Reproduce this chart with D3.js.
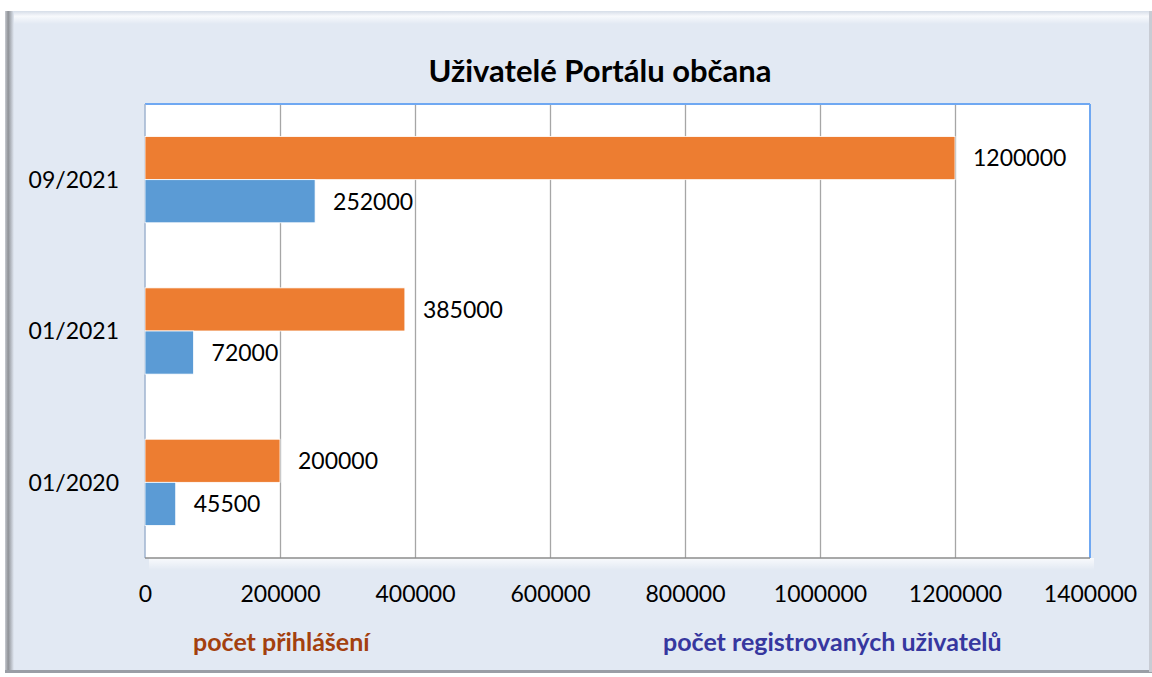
<!DOCTYPE html>
<html>
<head>
<meta charset="utf-8">
<script src="https://cdn.jsdelivr.net/npm/d3@7"></script>
<style>
  html, body { margin: 0; padding: 0; background: #ffffff; }
  svg { display: block; }
  text { font-family: Lato, "Open Sans", sans-serif; }
</style>
</head>
<body>
<svg id="chart" width="1152" height="677"></svg>
<script>
// ---- Data ----
const categories = ["09/2021", "01/2021", "01/2020"];
const seriesNames = ["počet přihlášení", "počet registrovaných uživatelů"];
const loginValues = [1200000, 385000, 200000];
const userValues = [252000, 72000, 45500];
const xTicks = [0, 200000, 400000, 600000, 800000, 1000000, 1200000, 1400000];
const titleText = "Uživatelé Portálu občana";

const seriesColors = ["#ed7d31", "#5b9bd5"];
const legendColors = ["#a3400e", "#36379f"];

const svg = d3.select("#chart");
const W = 1152, H = 677;

// ---- Frame ----
const defs = svg.append("defs");
const lg = defs.append("linearGradient").attr("id", "leftBevel").attr("x1", 0).attr("x2", 1);
lg.append("stop").attr("offset", "0%").attr("stop-color", "#c9ccd2");
lg.append("stop").attr("offset", "35%").attr("stop-color", "#8e9196");
lg.append("stop").attr("offset", "100%").attr("stop-color", "#e2e9f3");
const tg = defs.append("linearGradient").attr("id", "topBevel").attr("x1", 0).attr("x2", 0).attr("y1", 0).attr("y2", 1);
tg.append("stop").attr("offset", "0%").attr("stop-color", "#d6dde8");
tg.append("stop").attr("offset", "40%").attr("stop-color", "#f7f9fc");
tg.append("stop").attr("offset", "100%").attr("stop-color", "#e2e9f3");
const sg = defs.append("linearGradient").attr("id", "plotShadow").attr("x1", 0).attr("x2", 0).attr("y1", 0).attr("y2", 1);
sg.append("stop").attr("offset", "0%").attr("stop-color", "#ffffff").attr("stop-opacity", 0.8);
sg.append("stop").attr("offset", "100%").attr("stop-color", "#ffffff").attr("stop-opacity", 0);

svg.append("rect").attr("x", 6).attr("y", 11).attr("width", W - 6).attr("height", 661).attr("fill", "#e2e9f3");
svg.append("rect").attr("x", 6).attr("y", 11).attr("width", W - 6).attr("height", 13).attr("fill", "url(#topBevel)");
svg.append("rect").attr("x", 5).attr("y", 11).attr("width", 9).attr("height", 661).attr("fill", "url(#leftBevel)");
svg.append("rect").attr("x", 5).attr("y", 670).attr("width", W - 5).attr("height", 3).attr("fill", "#9a9ea6");
svg.append("rect").attr("x", W - 3).attr("y", 11).attr("width", 3).attr("height", 661).attr("fill", "#c8ccd4");

// ---- Scales ----
const plot = { left: 145, right: 1090, top: 104, bottom: 558 };
const x = d3.scaleLinear().domain([0, 1400000]).range([plot.left, plot.right]);
const y = d3.scaleBand().domain(categories).range([plot.top, plot.bottom]).paddingInner(0.43).paddingOuter(0.215);
const ySub = d3.scaleBand().domain([0, 1]).range([0, y.bandwidth()]).padding(0);

// plot area shadow + background
svg.append("rect").attr("x", plot.left + 4).attr("y", plot.bottom).attr("width", plot.right - plot.left).attr("height", 12).attr("fill", "url(#plotShadow)");
svg.append("rect").attr("x", plot.left).attr("y", plot.top).attr("width", plot.right - plot.left).attr("height", plot.bottom - plot.top).attr("fill", "#ffffff");

// gridlines
const grid = svg.append("g").attr("transform", `translate(0,${plot.bottom})`)
  .call(d3.axisBottom(x).tickValues(xTicks.slice(1, -1)).tickSize(-(plot.bottom - plot.top)).tickFormat(""));
grid.select(".domain").remove();
grid.selectAll("line").attr("stroke", "#a6a6a6").attr("stroke-width", 1.3);

// plot borders
svg.append("line").attr("x1", plot.left).attr("x2", plot.right).attr("y1", plot.top).attr("y2", plot.top).attr("stroke", "#6fa8f2").attr("stroke-width", 2);
svg.append("line").attr("x1", plot.right).attr("x2", plot.right).attr("y1", plot.top).attr("y2", plot.bottom).attr("stroke", "#6fa8f2").attr("stroke-width", 2);
svg.append("line").attr("x1", plot.left).attr("x2", plot.left).attr("y1", plot.top).attr("y2", plot.bottom).attr("stroke", "#9fb3cf").attr("stroke-width", 1.5);
svg.append("line").attr("x1", plot.left).attr("x2", plot.right).attr("y1", plot.bottom).attr("y2", plot.bottom).attr("stroke", "#8c8c8c").attr("stroke-width", 1.3);

// ---- Bars ----
const rows = categories.map((c, i) => ({ cat: c, vals: [loginValues[i], userValues[i]] }));
const groups = svg.append("g").selectAll("g").data(rows).join("g")
  .attr("transform", d => `translate(0,${y(d.cat)})`);

groups.selectAll("rect").data(d => d.vals.map((v, k) => ({ v, k }))).join("rect")
  .attr("x", x(0))
  .attr("y", d => ySub(d.k))
  .attr("width", d => x(d.v) - x(0))
  .attr("height", ySub.bandwidth())
  .attr("fill", d => seriesColors[d.k])
  .attr("stroke", "#ffffff").attr("stroke-width", 0.8);

groups.selectAll("text").data(d => d.vals.map((v, k) => ({ v, k }))).join("text")
  .attr("x", d => x(d.v) + 18)
  .attr("y", d => ySub(d.k) + ySub.bandwidth() / 2)
  .attr("dy", "0.36em")
  .attr("font-size", 23)
  .attr("fill", "#000")
  .text(d => d3.format("d")(d.v));

// ---- Axes ----
const xAxis = svg.append("g").attr("transform", `translate(0,${plot.bottom})`)
  .call(d3.axisBottom(x).tickValues(xTicks).tickSize(0).tickPadding(0).tickFormat(d3.format("d")));
xAxis.select(".domain").remove();
xAxis.selectAll("text").attr("y", 44).attr("dy", 0).attr("font-size", 23).attr("fill", "#000").style("font-family", "Lato, 'Open Sans', sans-serif");

const yAxis = svg.append("g").attr("transform", `translate(${plot.left},0)`)
  .call(d3.axisLeft(y).tickSize(0).tickPadding(26));
yAxis.select(".domain").remove();
yAxis.selectAll("text").attr("font-size", 23).attr("fill", "#000").attr("dy", "0.36em").style("font-family", "Lato, 'Open Sans', sans-serif");

// ---- Title ----
svg.append("text").attr("x", 600).attr("y", 82).attr("text-anchor", "middle")
  .attr("font-size", 31).attr("font-weight", "bold").attr("fill", "#000").text(titleText);

// ---- Legend labels ----
const legendX = [193, 663];
svg.append("g").selectAll("text").data(seriesNames).join("text")
  .attr("x", (d, i) => legendX[i]).attr("y", 651)
  .attr("font-size", 25).attr("font-weight", "bold")
  .attr("fill", (d, i) => legendColors[i])
  .text(d => d);
</script>
</body>
</html>
